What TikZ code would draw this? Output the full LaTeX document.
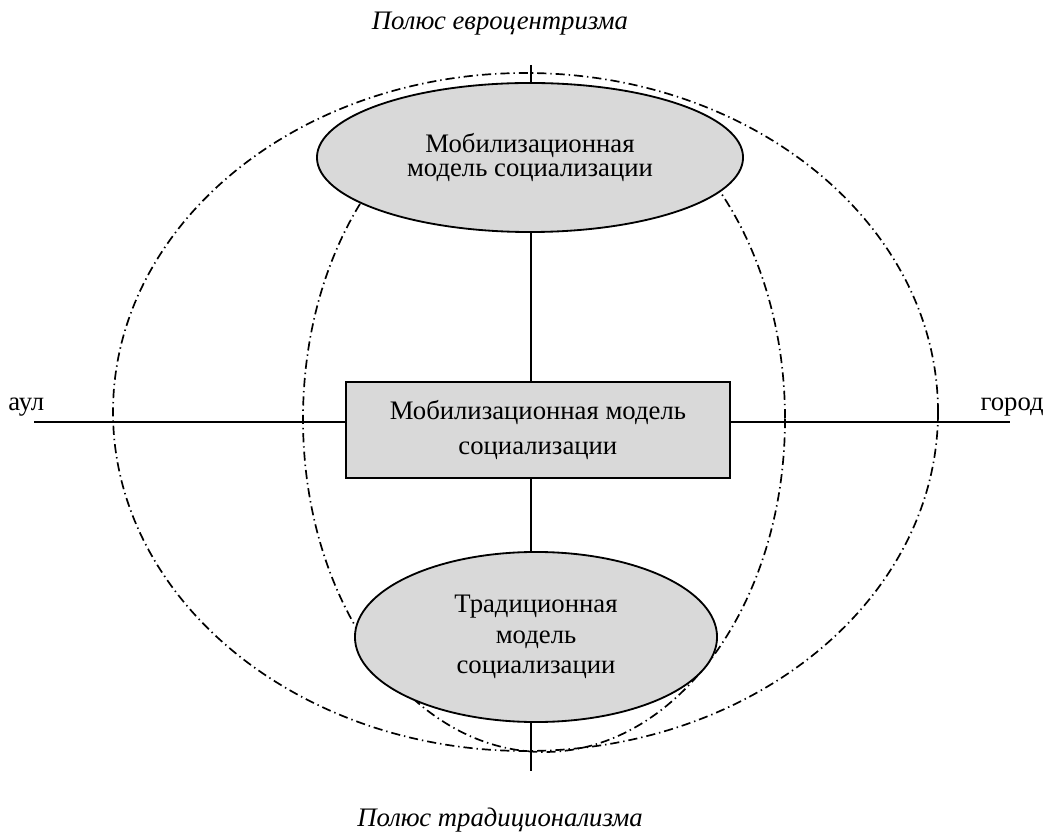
\documentclass[tikz,border=0pt]{standalone}
\usepackage{fontspec}
\setmainfont{Liberation Serif}
\usetikzlibrary{shapes.geometric}
\definecolor{modelgray}{RGB}{217,217,217}
\tikzset{
  model/.style={draw, ellipse, fill=modelgray, line width=1.3pt, inner sep=0pt, align=center, font=\fontsize{19}{17.5}\selectfont},
  modelbox/.style={draw, rectangle, fill=modelgray, line width=1.3pt, align=center, minimum width=9.6cm, minimum height=2.4cm, font=\fontsize{19}{25}\selectfont},
  zone/.style={line width=1.2pt, dash pattern=on 6.5pt off 2.8pt on 1pt off 2.8pt},
  axis/.style={line width=1.3pt},
  pole/.style={inner sep=0pt, font=\fontsize{19}{22}\selectfont\itshape},
  place/.style={inner sep=0pt, font=\fontsize{19}{22}\selectfont}
}
\begin{document}
\begin{tikzpicture}[x=0.025cm, y=-0.025cm]
  \useasboundingbox (0,0) rectangle (1051,832);
  % zones
  \draw[zone] (525.5,412) ellipse [x radius=412.5, y radius=339];
  \draw[zone] (544,419) ellipse [x radius=241, y radius=333];
  % axes
  \coordinate (aulend) at (34,422);
  \coordinate (gorodend) at (1010,422);
  \coordinate (northend) at (531,65);
  \coordinate (southend) at (531,771);
  \draw[axis] (aulend) -- (gorodend);
  \draw[axis] (northend) -- (southend);
  % models
  \node[model, minimum width=10.65cm, minimum height=3.725cm] (mobtop) at (530,157.5) {Мобилизационная\\модель социализации};
  \node[modelbox] (mobbox) at (537.9,430) {Мобилизационная модель\\социализации};
  \node[model, minimum width=9.05cm, minimum height=4.25cm, font=\fontsize{19}{21.5}\selectfont] (tradbot) at (536,637) {Традиционная\\модель\\социализации};
  % labels
  \node[place, anchor=west] (aul) at (8,407) {аул};
  \node[place, anchor=east] (gorod) at (1044,407) {город};
  \node[pole] (euro) at (500,24) {Полюс евроцентризма};
  \node[pole] (trad) at (500,820) {Полюс традиционализма};
\end{tikzpicture}
\end{document}
